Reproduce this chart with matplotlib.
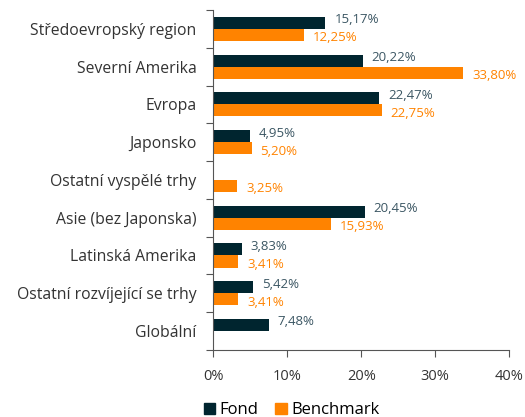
import matplotlib
matplotlib.use('Agg')
import matplotlib.pyplot as plt
import numpy as np
from matplotlib.patches import Patch

plt.rcParams['font.family'] = ['Open Sans', 'DejaVu Sans']

kategorie = [
    'Středoevropský region',
    'Severní Amerika',
    'Evropa',
    'Japonsko',
    'Ostatní vyspělé trhy',
    'Asie (bez Japonska)',
    'Latinská Amerika',
    'Ostatní rozvíjející se trhy',
    'Globální',
]
fond = [15.17, 20.22, 22.47, 4.95, None, 20.45, 3.83, 5.42, 7.48]
benchmark = [12.25, 33.80, 22.75, 5.20, 3.25, 15.93, 3.41, 3.41, None]

c_fond = '#00252f'
c_bench = '#ff8300'
c_fond_txt = '#3b5663'

fig = plt.figure(figsize=(5.25, 4.17), dpi=100)
ax = fig.add_axes([0.406, 0.161, 0.564, 0.815])

y = np.arange(len(kategorie))
h = 0.32

for i in range(len(kategorie)):
    if fond[i] is not None:
        ax.barh(y[i] - h / 2, fond[i], height=h, color=c_fond)
        ax.text(fond[i] + 1.2, y[i] - h / 2 - 0.08, f'{fond[i]:.2f}%'.replace('.', ','),
                va='center', ha='left', fontsize=9.5, color=c_fond_txt)
    if benchmark[i] is not None:
        ax.barh(y[i] + h / 2, benchmark[i], height=h, color=c_bench)
        ax.text(benchmark[i] + 1.2, y[i] + h / 2 + 0.08, f'{benchmark[i]:.2f}%'.replace('.', ','),
                va='center', ha='left', fontsize=9.5, color=c_bench)

ax.set_ylim(len(kategorie) - 0.5, -0.5)
ax.set_xlim(0, 40)
ax.set_xticks([0, 10, 20, 30, 40])
ax.set_xticklabels(['0%', '10%', '20%', '30%', '40%'], fontsize=10.5, color='#333333')

ax.set_yticks(np.arange(len(kategorie) + 1) - 0.5)
ax.set_yticklabels([])
ax.set_yticks(y, minor=True)
ax.set_yticklabels(kategorie, minor=True, fontsize=11.3, color='#333333')
ax.tick_params(axis='y', which='minor', length=0, pad=12)
ax.tick_params(axis='y', which='major', length=5, color='#555555')
ax.tick_params(axis='x', length=5, color='#555555', pad=9)

for s in ['top', 'right']:
    ax.spines[s].set_visible(False)
ax.spines['left'].set_color('#555555')
ax.spines['bottom'].set_color('#555555')

ax.legend(handles=[Patch(color=c_fond, label='Fond'), Patch(color=c_bench, label='Benchmark')],
          loc='upper left', bbox_to_anchor=(-0.06, -0.13), ncol=2, frameon=False,
          fontsize=12, handlelength=0.7, handleheight=0.7, handletextpad=0.25,
          columnspacing=1.0, borderpad=0)

fig.savefig('out.png', dpi=100)
